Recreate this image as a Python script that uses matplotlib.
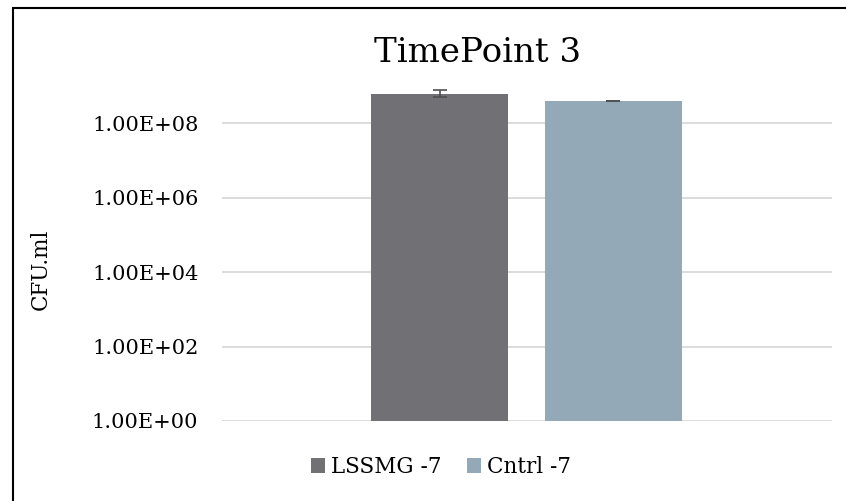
import matplotlib
matplotlib.use("Agg")
import matplotlib.pyplot as plt
from matplotlib.patches import Rectangle, Patch
from matplotlib.ticker import FixedLocator, FixedFormatter

plt.rcParams['font.family'] = ['DejaVu Serif']

# Data
series_names = ["LSSMG -7", "Cntrl -7"]
values = [6.2e8, 4.0e8]
errors_up = [1.6e8, 0.1e8]
errors_down = [1.2e8, 0.1e8]
colors = ["#707075", "#93a9b8"]
tick_values = [1e0, 1e2, 1e4, 1e6, 1e8]
tick_labels = ["1.00E+00", "1.00E+02", "1.00E+04", "1.00E+06", "1.00E+08"]

W, H = 846, 501
fig = plt.figure(figsize=(W / 100, H / 100), dpi=100)

# Chart border (left and top edges visible)
fig.patches.append(Rectangle((13 / W, -0.1), 1.2, (H - 8) / H + 0.1,
                             transform=fig.transFigure, fill=False,
                             edgecolor="black", linewidth=1.5))

left, right = 222 / W, 832 / W
bottom = 1 - 421 / H
top = 1 - 86.2 / H
ax = fig.add_axes([left, bottom, right - left, top - bottom])

ax.set_yscale("log")
ax.set_ylim(1e0, 1e9)
ax.set_xlim(0, 1)

centers = [0.3566, 0.6418]
width = 0.2246
for c, v, eu, ed, col in zip(centers, values, errors_up, errors_down, colors):
    ax.bar(c, v, width=width, color=col, zorder=2)
    ax.errorbar(c, v, yerr=[[ed], [eu]], fmt="none", ecolor="#505050",
                elinewidth=1.2, capsize=5, capthick=1.2, zorder=3)

ax.yaxis.set_major_locator(FixedLocator(tick_values))
ax.yaxis.set_major_formatter(FixedFormatter(tick_labels))
ax.yaxis.set_minor_locator(FixedLocator([]))
ax.grid(axis="y", color="#d9d9d9", linewidth=1.3, zorder=0)
ax.set_axisbelow(True)
for s in ax.spines.values():
    s.set_visible(False)
ax.set_xticks([])
ax.tick_params(axis="y", length=0, pad=17, labelsize=15, labelcolor="#000000")

fig.text(41 / W, 1 - 269 / H, "CFU.ml", rotation=90, ha="center", va="center",
         fontsize=15.5)
fig.text(478 / W, 1 - 62 / H, "TimePoint 3", ha="center", va="baseline",
         fontsize=24.5)

handles = [Patch(facecolor=c, edgecolor="none") for c in colors]
fig.legend(handles, series_names, loc="center", bbox_to_anchor=(441 / W, 1 - 467 / H),
           ncol=2, frameon=False, fontsize=15.5, handlelength=0.65, handleheight=0.65,
           handletextpad=0.25, columnspacing=1.2, borderpad=0)

fig.savefig("out.png", dpi=100)
